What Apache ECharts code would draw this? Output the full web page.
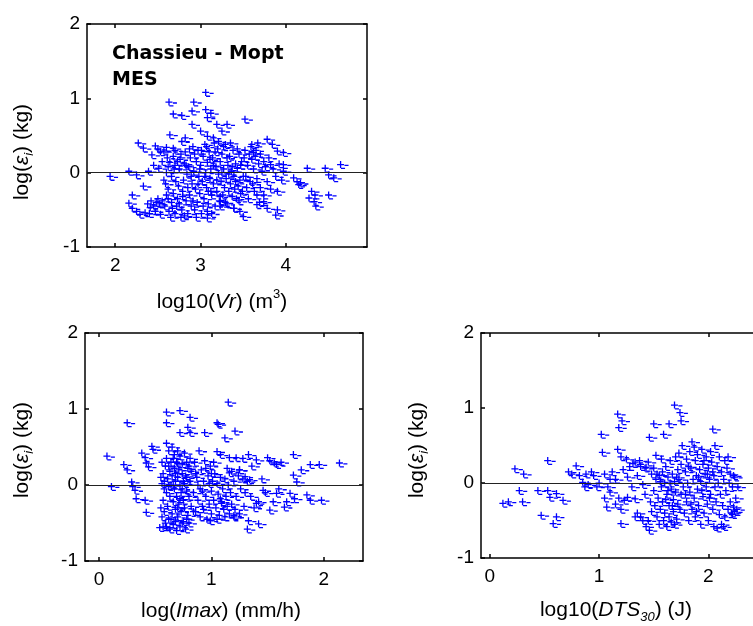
<!DOCTYPE html>
<html><head><meta charset="utf-8">
<script src="https://cdn.jsdelivr.net/npm/echarts@6/dist/echarts.min.js"></script>
<style>html,body{margin:0;padding:0;background:#fff}#c{width:753px;height:626px}</style>
</head><body><div id="c"></div>
<script>
// ---- data ----
const vrPoints = [
[1.94,-0.05],[2.16,0.02],[2.27,0.40],[2.33,0.33],[2.39,0.02],[2.2,-0.3],[2.16,-0.41],[2.2,-0.48],[2.25,-0.52],[2.29,-0.56],[2.35,-0.54],[2.41,-0.47],[2.47,-0.52],[2.53,-0.56],[2.33,-0.18],[2.25,-0.03],[2.43,0.24],[2.45,0.1],[2.51,0.06],[2.57,0.29],[2.61,0.2],[2.68,0.33],[2.64,0.51],[2.63,0.95],[2.68,0.79],[2.78,0.77],[2.92,0.95],[2.9,0.83],[3.06,1.08],[3.06,0.85],[3.12,0.8],[3.08,0.74],[2.9,0.65],[3.0,0.56],[3.19,0.65],[3.31,0.65],[3.25,0.56],[3.52,0.72],[3.08,0.49],[3.15,0.47],[2.82,0.47],[2.78,0.42],
[3.78,0.45],[3.84,0.38],[3.9,0.29],[3.97,0.27],[3.6,0.38],[3.62,0.27],[3.7,0.25],[3.74,0.15],[3.82,0.11],[3.97,0.11],[3.97,0.02],[4.09,-0.07],[4.13,-0.12],[4.15,-0.16],[4.17,-0.14],[4.25,0.06],[4.46,0.06],[4.64,0.11],[4.5,-0.03],[4.56,-0.07],[4.3,-0.25],[4.34,-0.3],[4.5,-0.3],[4.27,-0.34],[4.33,-0.39],[4.35,-0.45],[3.9,-0.5],[3.88,-0.57],[3.78,-0.48],[3.74,-0.39],[3.66,-0.43],[3.66,-0.3],[3.46,-0.52],[3.39,-0.48],[3.5,-0.59],[3.23,-0.39],[3.23,-0.45],[3.08,-0.52],[3.08,-0.61],[3.12,-0.25],
[2.55,-0.38],[2.58,-0.45],[2.6,-0.3],[2.62,-0.22],[2.63,-0.52],[2.65,-0.6],[2.66,-0.4],[2.68,-0.28],[2.7,-0.55],[2.6,0.0],[2.62,0.08],[2.64,0.14],[2.66,-0.05],[2.68,0.22],[2.7,0.1],[2.55,0.15],[2.57,-0.1],[2.59,-0.15],[2.52,-0.42],[2.5,-0.35],[2.48,-0.4],[2.45,-0.45],[2.42,-0.38],[2.4,-0.55],[2.38,-0.42],[2.5,0.32],[2.53,0.28],[2.47,0.36],[2.6,0.34],[2.7,0.3],
[2.72,-0.45],[2.73,-0.35],[2.74,-0.18],[2.75,0.05],[2.76,0.18],[2.77,-0.6],[2.78,-0.5],[2.79,-0.25],[2.8,-0.1],[2.81,0.12],[2.82,0.28],[2.83,-0.38],[2.84,-0.02],[2.85,-0.55],[2.86,0.08],[2.87,-0.3],[2.88,0.2],[2.89,-0.45],[2.9,-0.15],[2.91,0.35],[2.92,0.02],[2.93,-0.5],[2.94,-0.22],[2.95,0.15],[2.96,-0.4],[2.97,0.3],[2.98,-0.05],[2.99,-0.28],[3.0,0.1],[3.01,-0.55],[3.02,-0.12],[3.03,0.22],[3.04,-0.35],[3.05,0.38],[3.06,0.0],[3.07,-0.2],[3.08,0.14],[3.09,-0.42],[3.1,0.28],[3.11,-0.08],[3.12,0.05],[3.13,-0.3],[3.14,0.2],[3.15,-0.15],[3.16,0.4],[3.17,-0.45],[3.18,0.08],[3.19,-0.25],[3.2,0.32],[3.21,-0.02],[3.22,-0.38],[3.23,0.15],[3.24,-0.12],[3.25,0.25],[3.26,-0.3],[3.27,0.05],[3.28,-0.2],[3.29,0.38],[3.3,-0.08],[3.31,-0.42],[3.32,0.1],[3.33,-0.25],[3.34,0.22],[3.35,-0.15],[3.36,0.02],[3.37,-0.32],[3.38,0.3],[3.39,-0.05],[3.4,-0.22],[3.41,0.12],[3.42,-0.35],[3.43,0.06],[3.44,-0.18],[3.45,0.25],[3.46,-0.1],[3.47,-0.28],[3.48,0.15],[3.5,-0.05],[3.52,0.3],[3.54,-0.2],[3.55,0.1],[3.57,0.25],[3.58,-0.12],[3.6,0.18],[3.62,0.05],[3.63,-0.25],[3.65,0.3],[3.66,-0.08],[3.68,0.12],[3.7,-0.2],[3.72,0.02],[3.74,-0.3],[3.76,0.08],[3.78,-0.12],[3.8,0.2],[3.82,-0.22],[3.85,0.05],[3.88,-0.05],[3.9,-0.25],[3.92,0.12],[3.95,-0.1],
[2.62,-0.35],[2.67,-0.48],[2.69,0.05],[2.71,-0.12],[2.73,0.15],[2.75,-0.42],[2.77,0.25],[2.79,-0.32],[2.81,-0.58],[2.83,0.1],[2.85,-0.2],[2.87,0.32],[2.89,-0.05],[2.91,-0.38],[2.93,0.25],[2.95,-0.6],[2.97,-0.15],[2.99,0.05],[3.01,0.3],[3.03,-0.45],[3.05,-0.05],[3.07,0.35],[3.09,-0.25],[3.11,0.18],[3.13,-0.55],[3.15,0.1],[3.17,0.28],[3.19,-0.1],[3.21,0.42],[3.23,-0.32],[3.25,0.0],[3.27,0.35],[3.29,-0.4],[3.31,0.2],[3.33,-0.02],[3.35,0.4],[3.37,0.08],[3.39,-0.48],[3.41,-0.12],[3.43,0.32],[3.45,-0.38],[3.47,0.1],[3.49,-0.25],[3.51,0.2],[3.53,-0.05],[3.56,-0.35],[3.59,0.35],[3.61,-0.15],[3.64,0.22],[3.67,0.4],[3.69,-0.4]
];
const imaxPoints = [
[0.07,0.38],[0.11,-0.02],[0.25,0.82],[0.22,0.27],[0.25,0.2],[0.29,0.04],[0.3,-0.02],[0.32,-0.07],[0.33,-0.18],[0.41,-0.2],[0.42,-0.36],[0.38,0.42],[0.41,0.36],[0.42,0.29],[0.47,0.51],[0.48,0.47],[0.44,0.24],[0.54,-0.56],[0.6,0.96],[0.6,0.82],[0.72,0.98],[0.81,0.89],[0.79,0.76],[0.72,0.69],[0.81,0.69],[0.94,0.69],[1.05,0.82],[1.06,0.8],[1.15,1.09],[1.12,0.62],[1.21,0.71],[1.05,0.44],[1.08,0.4],[1.16,0.36],[1.22,0.36],[1.33,0.4],[1.4,0.33],[1.5,0.36],[1.56,0.29],[1.58,0.27],[1.73,0.4],[1.8,0.2],[1.88,0.27],[1.96,0.27],[2.14,0.29],[1.73,0.13],[1.76,0.04],[1.46,-0.07],[1.58,-0.11],[1.7,-0.11],[1.74,-0.18],[1.85,-0.13],[1.88,-0.2],[1.98,-0.2],[1.4,-0.24],[1.52,-0.33],[1.65,-0.29],[1.67,-0.22],[1.33,-0.47],[1.42,-0.51],[1.32,-0.58],[1.2,-0.42],[1.09,-0.24],[0.99,-0.47],[1.3,0.11],[1.34,0.07],[1.16,0.16],[1.25,0.2],
[0.55,0.1],[0.55,-0.3],[0.56,0.02],[0.56,-0.42],[0.57,0.15],[0.57,-0.2],[0.58,0.05],[0.58,-0.35],[0.59,-0.5],[0.59,0.25],[0.6,0.55],[0.6,-0.1],[0.6,0.35],[0.61,-0.28],[0.61,0.08],[0.62,0.45],[0.62,-0.45],[0.63,0.18],[0.63,-0.15],[0.63,-0.58],[0.64,0.3],[0.64,0.0],[0.65,-0.38],[0.65,0.5],[0.65,0.12],[0.66,-0.22],[0.66,-0.52],[0.67,0.4],[0.67,0.22],[0.67,-0.05],[0.68,-0.32],[0.68,0.05],[0.69,-0.6],[0.69,0.3],[0.69,-0.15],[0.7,0.45],[0.7,-0.42],[0.7,0.1],[0.71,-0.25],[0.71,0.2],[0.72,-0.55],[0.72,0.0],[0.72,0.38],[0.73,-0.1],[0.73,-0.35],[0.74,0.15],[0.74,0.28],[0.75,-0.48],[0.75,-0.2],[0.75,0.05],[0.76,0.42],[0.76,-0.3],[0.77,-0.58],[0.77,0.12],[0.78,-0.08],[0.78,0.3],[0.79,-0.4],[0.79,0.22],[0.8,-0.15],[0.8,-0.5],[0.81,0.05],[0.81,0.35],[0.82,-0.28],[0.82,0.18],
[0.56,0.3],[0.58,-0.05],[0.6,-0.55],[0.62,-0.02],[0.64,-0.45],[0.66,0.35],[0.68,0.15],[0.7,-0.3],[0.72,-0.18],[0.74,-0.5],[0.76,0.02],[0.78,-0.45],[0.8,0.25],[0.62,0.25],[0.66,0.0],[0.7,0.28],[0.74,-0.05],[0.78,0.1],[0.57,-0.55],[0.68,-0.48],
[0.84,-0.1],[0.85,0.3],[0.86,-0.35],[0.87,0.1],[0.88,-0.2],[0.89,0.45],[0.9,-0.05],[0.9,-0.42],[0.91,0.2],[0.92,-0.28],[0.93,0.05],[0.94,0.32],[0.95,-0.15],[0.96,-0.45],[0.97,0.12],[0.98,-0.25],[0.99,0.25],[1.0,-0.08],[1.0,-0.38],[1.01,0.05],[1.02,-0.2],[1.03,0.15],[1.04,-0.3],[1.05,0.02],[1.06,-0.12],[1.07,-0.4],[1.08,0.1],[1.09,-0.22],[1.1,-0.05],[1.11,-0.32],[1.12,0.08],[1.13,-0.15],[1.14,-0.28],[1.15,0.0],[1.16,-0.38],[1.17,-0.1],[1.18,-0.25],[1.2,0.05],[1.21,-0.32],[1.22,-0.15],[1.24,0.12],[1.25,-0.38],[1.26,-0.05],[1.28,0.08],[1.29,-0.28],[1.3,-0.1],[0.86,0.15],[0.88,0.0],[0.92,-0.08],[0.95,0.22],[0.98,0.02],[1.02,0.3],[1.05,-0.45],[1.08,-0.18],[1.12,-0.42],[1.18,0.18],[0.84,-0.35],[0.93,-0.32],[1.0,0.15],[1.14,0.22],[1.2,-0.4],[1.25,0.2],[1.32,0.05],[1.35,-0.15],[1.38,-0.3],[1.42,-0.22],[1.45,0.08],[1.48,-0.1],[1.55,-0.22],[1.6,-0.05],[1.62,0.3],[1.52,0.32],[1.28,0.35],[1.36,0.25]
];
const dtsPoints = [
[0.12,-0.27],[0.17,-0.25],[0.23,0.19],[0.31,0.12],[0.27,-0.1],[0.3,-0.25],[0.44,-0.1],[0.47,-0.43],[0.53,0.3],[0.53,-0.1],[0.55,-0.19],[0.61,-0.14],[0.58,-0.54],[0.61,-0.45],[0.67,-0.23],[0.72,0.15],[0.75,0.12],[0.79,0.23],[0.82,0.1],[0.85,0.01],[0.87,-0.05],[0.93,0.15],[1.02,0.65],[1.03,0.41],[1.05,0.12],[1.07,-0.32],[1.1,-0.12],[1.17,0.92],[1.18,0.74],[1.21,0.83],[1.17,0.45],[1.2,0.35],[1.2,-0.54],[1.26,0.08],[1.26,-0.19],[1.23,-0.23],[1.33,-0.21],[1.33,-0.45],[1.4,-0.5],[1.43,-0.58],[1.46,-0.63],[1.5,0.79],[1.46,0.61],[1.52,0.37],[1.59,0.65],[1.64,0.79],[1.69,1.04],[1.75,0.83],[1.74,0.94],[2.04,0.72],[1.37,0.3],[1.43,0.21],[1.31,0.26],
[1.5,-0.1],[1.51,-0.3],[1.52,0.05],[1.53,-0.45],[1.54,-0.2],[1.55,0.1],[1.55,-0.55],[1.56,-0.35],[1.57,-0.05],[1.58,0.15],[1.58,-0.25],[1.59,-0.5],[1.6,0.0],[1.6,-0.4],[1.61,0.22],[1.62,-0.15],[1.62,-0.58],[1.63,0.08],[1.64,-0.3],[1.64,-0.45],[1.65,0.3],[1.66,-0.08],[1.66,-0.52],[1.67,0.12],[1.68,-0.22],[1.68,-0.38],[1.69,0.02],[1.7,0.35],[1.7,-0.12],[1.71,-0.48],[1.72,0.18],[1.72,-0.28],[1.73,0.05],[1.74,-0.35],[1.75,0.25],[1.75,-0.15],[1.53,0.12],[1.57,0.32],[1.61,-0.22],[1.65,0.0],[1.69,-0.55],[1.73,0.4],[1.56,0.02],[1.63,-0.1],[1.67,-0.3],[1.71,0.08],
[1.76,0.5],[1.77,-0.05],[1.78,-0.4],[1.79,0.15],[1.8,-0.25],[1.8,0.32],[1.81,0.0],[1.82,-0.5],[1.83,0.42],[1.83,-0.12],[1.84,0.2],[1.85,-0.35],[1.85,0.55],[1.86,0.05],[1.87,-0.2],[1.88,0.3],[1.88,-0.45],[1.89,0.1],[1.9,-0.08],[1.9,0.38],[1.91,-0.3],[1.92,0.18],[1.93,-0.55],[1.93,0.02],[1.94,0.45],[1.95,-0.18],[1.95,0.25],[1.96,-0.4],[1.97,0.12],[1.98,-0.05],[1.98,0.35],[1.99,-0.28],[2.0,0.2],[2.0,-0.5],[2.01,0.05],[2.02,0.42],[2.02,-0.15],[2.03,0.28],[2.04,-0.35],[2.05,0.1],[2.05,-0.58],[2.06,0.5],[2.06,-0.05],[2.07,-0.25],[2.08,0.22],[2.08,-0.6],[2.09,0.0],[2.1,0.35],[2.1,-0.42],[1.82,0.22],[1.87,0.48],[1.91,0.08],[1.96,0.3],[2.01,-0.2],[2.04,0.15],[1.79,-0.15],[1.84,-0.28],[1.89,-0.38],[1.94,-0.1],[1.99,0.12],
[2.11,-0.15],[2.12,0.15],[2.13,-0.3],[2.14,0.05],[2.15,-0.45],[2.15,0.3],[2.16,-0.1],[2.17,0.2],[2.18,-0.35],[2.19,0.0],[2.2,-0.25],[2.2,0.12],[2.21,-0.4],[2.22,-0.05],[2.23,0.1],[2.23,-0.32],[2.24,-0.38],[2.25,-0.2],[2.26,-0.35],[2.27,-0.05],[2.12,-0.55],[2.14,-0.58],[2.18,0.35],[2.22,-0.42],[2.24,0.08],
[1.0,0.0],[1.08,-0.05],[1.12,0.15],[1.15,0.05],[1.18,-0.2],[1.22,0.18],[1.25,0.32],[1.28,0.22],[1.3,-0.05],[1.33,0.28],[1.35,0.1],[1.38,0.22],[1.4,-0.02],[1.42,0.2],[1.45,0.28],[1.47,-0.25],[1.48,0.12],[1.35,-0.4],[1.38,-0.45],[1.42,-0.15],[1.15,-0.28],[1.2,-0.35],[1.05,-0.2],[1.1,0.05],[0.95,0.1],[0.9,-0.02],[0.88,0.12],[0.98,-0.05],[1.45,-0.5],[1.5,0.2],[1.48,-0.38]
];
const yTicks = [-1, 0, 1, 2];
const vrTicks = [2, 3, 4];
const imaxTicks = [0, 1, 2];
const dtsTicks = [0, 1, 2];
const chartTitle = 'Chassieu - Mopt\nMES';

// ---- layout ----
const panels = [
  {pts: vrPoints, ticks: vrTicks, xmin: 1.67, xmax: 4.95, grid: {left: 87, top: 24, width: 280, height: 223}},
  {pts: imaxPoints, ticks: imaxTicks, xmin: -0.125, xmax: 2.35, grid: {left: 85, top: 333, width: 278, height: 228}},
  {pts: dtsPoints, ticks: dtsTicks, xmin: -0.08, xmax: 2.5, grid: {left: 481, top: 333, width: 282, height: 225}}
];
const FONT = 'Liberation Sans, Arial, sans-serif';
const marker = 'path://M0 2.9H7V4.2H0Z M2.9 0H4.2V7H2.9Z M7.4 3.8H11.5V5.1H7.4Z M3.9 6.7H8V8H3.9Z';
const axisLine = {show: true, onZero: false, lineStyle: {color: '#000', width: 1.5}};

const grid = [], xAxis = [], yAxis = [], series = [];
panels.forEach((p, i) => {
  grid.push(Object.assign({containLabel: false, outerBoundsMode: 'none', show: false}, p.grid));
  const tick = (vals) => ({show: true, inside: true, length: 4, lineStyle: {color: '#000', width: 1.5}, customValues: vals});
  xAxis.push({type: 'value', gridIndex: i, position: 'bottom', min: p.xmin, max: p.xmax,
    axisLine, splitLine: {show: false}, axisTick: tick(p.ticks),
    axisLabel: {customValues: p.ticks, color: '#000', fontFamily: FONT, fontSize: 19, margin: 9}});
  xAxis.push({type: 'value', gridIndex: i, position: 'top', min: p.xmin, max: p.xmax,
    axisLine, splitLine: {show: false}, axisTick: tick(p.ticks), axisLabel: {show: false}});
  yAxis.push({type: 'value', gridIndex: i, position: 'left', min: -1, max: 2,
    axisLine, splitLine: {show: false}, axisTick: tick(yTicks),
    axisLabel: {customValues: yTicks, color: '#000', fontFamily: FONT, fontSize: 19, margin: 7}});
  yAxis.push({type: 'value', gridIndex: i, position: 'right', min: -1, max: 2,
    axisLine, splitLine: {show: false}, axisTick: tick(yTicks), axisLabel: {show: false}});
  series.push({type: 'scatter', xAxisIndex: 2 * i, yAxisIndex: 2 * i, data: p.pts,
    symbol: marker, symbolSize: [11.5, 8], symbolOffset: [2.25, 0.5], symbolKeepAspect: false,
    itemStyle: {color: '#0000ff', opacity: 1}, silent: true, animation: false,
    markLine: {silent: true, symbol: 'none', label: {show: false}, animation: false,
      lineStyle: {color: '#222', width: 1, type: 'solid'}, data: [{yAxis: 0}]}});
});

const mainRich = {
  n: {fontFamily: FONT, fontSize: 21, lineHeight: 28, verticalAlign: 'middle', fill: '#000'},
  it: {fontFamily: FONT, fontSize: 21, fontStyle: 'italic', lineHeight: 28, verticalAlign: 'middle', fill: '#000'},
  sub: {fontFamily: FONT, fontSize: 13, fontStyle: 'italic', lineHeight: 12, verticalAlign: 'bottom', fill: '#000'},
  sup: {fontFamily: FONT, fontSize: 13, lineHeight: 14, verticalAlign: 'top', fill: '#000'}
};
function label(x, y, text, rot) {
  return {type: 'text', x: x, y: y, rotation: rot || 0, silent: true,
    style: {text: text, align: 'center', verticalAlign: 'middle', rich: mainRich, fill: '#000'}};
}
const yTitle = '{n|log(}{it|ε}{sub|i}{n|) (kg)}';
const graphic = [
  label(222, 302, '{n|log10(}{it|Vr}{n|) (m}{sup|3}{n|)}'),
  label(221, 611, '{n|log(}{it|Imax}{n|) (mm/h)}'),
  label(616, 610, '{n|log10(}{it|DTS}{sub|30}{n|) (J)}'),
  label(22, 152, yTitle, Math.PI / 2),
  label(22, 450, yTitle, Math.PI / 2),
  label(417, 450, yTitle, Math.PI / 2),
  {type: 'text', x: 112, y: 41, silent: true,
    style: {text: chartTitle, fontFamily: 'DejaVu Sans', fontWeight: 'bold', fontSize: 19, lineHeight: 26,
      align: 'left', verticalAlign: 'top', fill: '#000'}}
];

const chart = echarts.init(document.getElementById('c'), null, {renderer: 'canvas'});
chart.setOption({animation: false, backgroundColor: '#fff', grid, xAxis, yAxis, series, graphic});
</script></body></html>
